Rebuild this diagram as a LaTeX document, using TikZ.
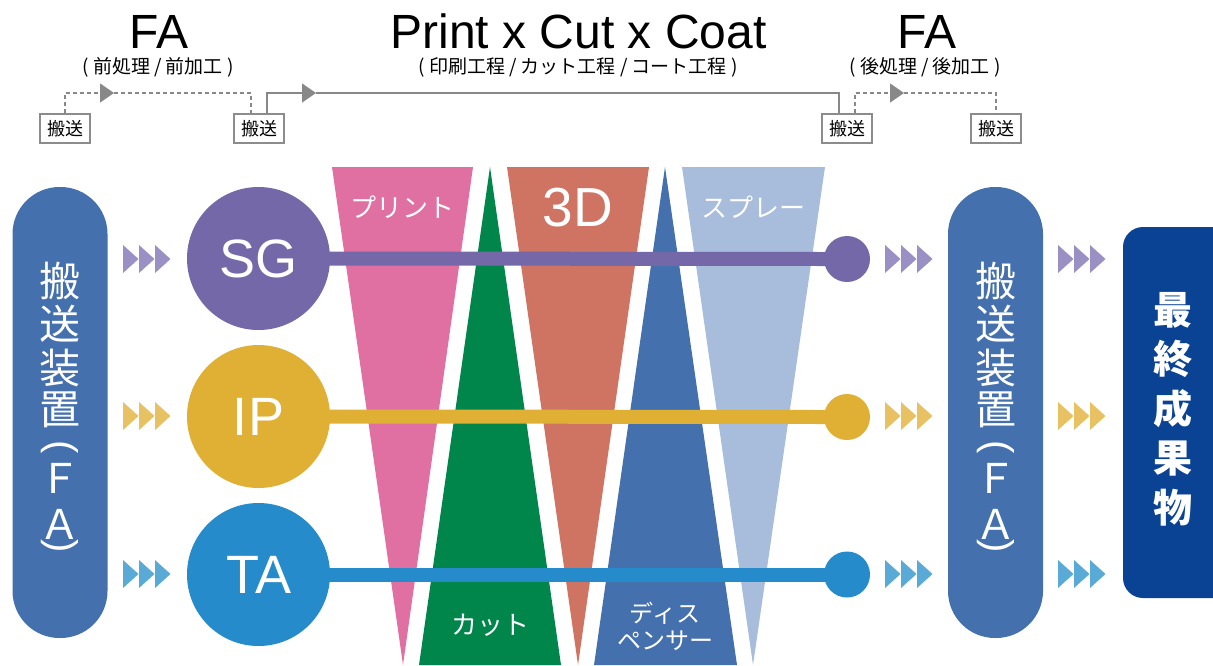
\documentclass[tikz,border=0pt]{standalone}
\usepackage{fontspec}
\usepackage{graphicx}
\setmainfont{Liberation Sans}
\newfontfamily\jp{Noto Sans CJK JP}
\usetikzlibrary{arrows.meta}
\definecolor{pillblue}{HTML}{4470AE}
\definecolor{finalblue}{HTML}{0A4394}
\definecolor{sgc}{HTML}{7568A8}
\definecolor{ipc}{HTML}{E0B035}
\definecolor{tac}{HTML}{268BCB}
\definecolor{sgl}{HTML}{9A90C4}
\definecolor{ipl}{HTML}{E8C262}
\definecolor{tal}{HTML}{5AAAD8}
\definecolor{pinkc}{HTML}{E070A2}
\definecolor{greenc}{HTML}{00854A}
\definecolor{orangec}{HTML}{CF7462}
\definecolor{dispc}{HTML}{4570AE}
\definecolor{sprayc}{HTML}{A8BCDB}
\definecolor{linegray}{HTML}{888888}
\definecolor{boxgray}{HTML}{8C8C8C}
\newcommand\chevrons[3]{%
  \foreach \dx in {0,16,32} \fill[#3] (#1+\dx,#2-14) -- (#1+\dx+15.5,#2) -- (#1+\dx,#2+14) -- cycle;}
\tikzset{
  pill/.style={rectangle, rounded corners=47pt, fill=pillblue, minimum width=95pt, minimum height=451pt, inner sep=0pt},
  pilltxt/.style={font=\jp\fontsize{41}{41}\selectfont, text=white, inner sep=0pt},
  paren/.style={font=\fontsize{40}{40}\selectfont, text=white, inner sep=0pt},
  bigc/.style={circle, minimum size=143pt, inner sep=0pt, font=\fontsize{54}{54}\selectfont, text=white},
  endc/.style={circle, minimum size=46pt, inner sep=0pt},
  bar/.style={line width=14pt, shorten <=-2pt, shorten >=-3pt},
  tlabel/.style={font=\jp\fontsize{26}{27}\selectfont, text=white, inner sep=0pt, align=center},
  box/.style={draw=boxgray, line width=1.2pt, minimum width=50pt, minimum height=29pt, inner sep=0pt, font=\jp\fontsize{18}{18}\selectfont, fill=white},
  conn/.style={draw=linegray, line width=1.4pt},
  dsh/.style={dash pattern=on 4pt off 3pt},
  tip/.style={-{Triangle[length=14pt,width=19pt]}},
  title/.style={font=\fontsize{48}{48}\selectfont, inner sep=0pt},
  subtitle/.style={font=\jp\fontsize{19}{19}\selectfont, inner sep=0pt}
}
\begin{document}
\begin{tikzpicture}[x=1pt,y=-1pt]
\useasboundingbox (0,0) rectangle (1213,665);
% process shapes
\fill[pinkc] (332,167) -- (473,167) -- (403,665) -- cycle;
\fill[greenc] (490,167) -- (561,665) -- (419,665) -- cycle;
\fill[orangec] (507,167) -- (649,167) -- (578,665) -- cycle;
\fill[dispc] (665,167) -- (737,665) -- (594,665) -- cycle;
\fill[sprayc] (682,167) -- (825,167) -- (753,665) -- cycle;
\node[tlabel] (print) at (402,207) {プリント};
\node[tlabel, font=\fontsize{55}{55}\selectfont] (threed) at (578,208) {3D};
\node[tlabel] (spray) at (753,207) {スプレー};
\node[tlabel] (cut) at (490,625) {カット};
\node[tlabel, font=\jp\fontsize{24}{27}\selectfont] (disp) at (665,626) {ディス\\ペンサー};
% titles
\node[title] (fa1) at (159,31.5) {FA};
\node[subtitle] (fa1s) at (158,67) {( 前処理 / 前加工 )};
\node[title] (pcc) at (578.5,31.5) {Print x Cut x Coat};
\node[subtitle] (pccs) at (578,67) {( 印刷工程 / カット工程 / コート工程 )};
\node[title] (fa2) at (927,31.5) {FA};
\node[subtitle] (fa2s) at (925,67) {( 後処理 / 後加工 )};
% transport boxes
\node[box] (b1) at (65,128.5) {搬送};
\node[box] (b2) at (259,128.5) {搬送};
\node[box] (b3) at (847,128.5) {搬送};
\node[box] (b4) at (996,128.5) {搬送};
\coordinate (a1) at (114,93);
\coordinate (a2) at (316,93);
\coordinate (a3) at (904,93);
\draw[conn,dsh,tip] (b1.north) |- (a1);
\draw[conn,dsh] (a1) -| ([xshift=-8pt]b2.north);
\draw[conn,tip] ([xshift=8pt]b2.north) |- (a2);
\draw[conn] (a2) -| ([xshift=-8pt]b3.north);
\draw[conn,dsh,tip] ([xshift=8pt]b3.north) |- (a3);
\draw[conn,dsh] (a3) -| (b4.north);
% pills
\node[pill] (lpill) at (60,412.5) {};
\node[pill] (rpill) at (995.5,412.5) {};
\foreach \ch/\yy [count=\k] in {搬/281,送/324,装/368,置/410,Ｆ/478,Ａ/524}{
  \node[pilltxt] (lt\k) at (60,\yy) {\ch};
  \node[pilltxt] (rt\k) at (995.5,\yy) {\ch};
}
\node[paren] (lpo) at (60,449) {\rotatebox[origin=c]{-90}{(}};
\node[paren] (lpc) at (60,548) {\rotatebox[origin=c]{-90}{)}};
\node[paren] (rpo) at (995.5,449) {\rotatebox[origin=c]{-90}{(}};
\node[paren] (rpc) at (995.5,548) {\rotatebox[origin=c]{-90}{)}};
\node[rectangle, rounded corners=20pt, fill=finalblue, minimum width=112pt, minimum height=371pt, inner sep=0pt] (final) at (1179,412.5) {};
\node[font=\jp\bfseries\fontsize{39}{49.5}\selectfont, text=white, align=center, inner sep=0pt] (finaltxt) at (1173,409) {最\\終\\成\\果\\物};
% chevrons
\chevrons{123}{259}{sgl}
\chevrons{123}{416}{ipl}
\chevrons{123}{574}{tal}
\chevrons{885}{259}{sgl}
\chevrons{885}{416}{ipl}
\chevrons{885}{574}{tal}
\chevrons{1058}{259}{sgl}
\chevrons{1058}{416}{ipl}
\chevrons{1058}{574}{tal}
% heads
\node[bigc, fill=sgc] (sg) at (258.5,258.5) {SG};
\node[bigc, fill=ipc] (ip) at (258.5,416.5) {IP};
\node[bigc, fill=tac] (ta) at (258.5,574.5) {TA};
\node[endc, fill=sgc] (sge) at (847,259) {};
\node[endc, fill=ipc] (ipe) at (847,417) {};
\node[endc, fill=tac] (tae) at (847,574.5) {};
\draw[bar, sgc] (sg.east) -- (sge.west);
\draw[bar, ipc] (ip.east) -- (ipe.west);
\draw[bar, tac] (ta.east) -- (tae.west);
\end{tikzpicture}
\end{document}
